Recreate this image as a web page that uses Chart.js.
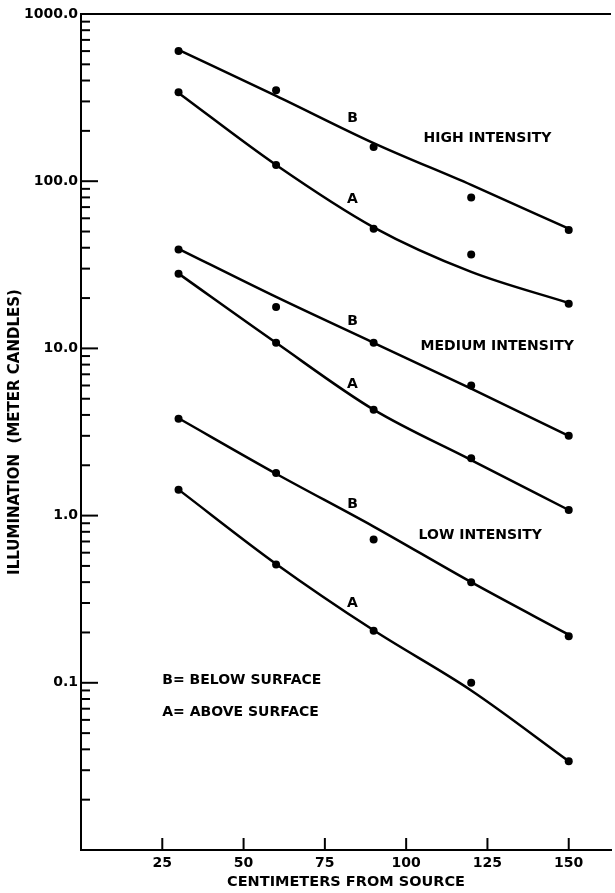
<!DOCTYPE html>
<html>
<head>
<meta charset="utf-8">
<script src="https://cdn.jsdelivr.net/npm/chart.js@4.4.1/dist/chart.umd.min.js"></script>
<style>
  body { margin: 0; background: #fff; }
</style>
</head>
<body>
<canvas id="myChart" width="615" height="893"></canvas>
<script>
const distances = [30, 60, 90, 120, 150];
const xTicks = [25, 50, 75, 100, 125, 150];
const decadeTicks = [0.1, 1, 10, 100, 1000];

// measured points (B = below surface, A = above surface)
const highB = [600, 350, 160, 80, 51];
const highA = [340, 125, 52, 36.5, 18.5];
const medB = [39, 17.7, 10.8, 6.0, 3.0];
const medA = [28, 10.8, 4.3, 2.2, 1.08];
const lowB = [3.8, 1.8, 0.72, 0.40, 0.19];
const lowA = [1.43, 0.51, 0.205, 0.10, 0.034];

// the hand drawn curves at the same distances
const highBCurve = [610, 324, 169, 95, 52];
const highACurve = [337, 125, 53, 28.7, 18.7];
const medBCurve = [39.4, 20.3, 10.8, 5.75, 3.0];
const medACurve = [28, 10.8, 4.3, 2.15, 1.08];
const lowBCurve = [3.82, 1.78, 0.86, 0.40, 0.194];
const lowACurve = [1.43, 0.514, 0.206, 0.09, 0.034];

// labels placed in data units
const curveNotes = [
  { text: 'B', x: 83.5, y: 239 },
  { text: 'A', x: 83.5, y: 78 },
  { text: 'B', x: 83.5, y: 14.6 },
  { text: 'A', x: 83.5, y: 6.13 },
  { text: 'B', x: 83.5, y: 1.17 },
  { text: 'A', x: 83.5, y: 0.297 }
];
const groupNotes = [
  { text: 'HIGH INTENSITY', x: 125, y: 181 },
  { text: 'MEDIUM INTENSITY', x: 128, y: 10.35 },
  { text: 'LOW INTENSITY', x: 122.8, y: 0.76 }
];
const keyNotes = [
  { text: 'B= BELOW SURFACE', x: 25, y: 0.104 },
  { text: 'A= ABOVE SURFACE', x: 25, y: 0.067 }
];

const FONT = "'DejaVu Sans', Arial, sans-serif";
const toXY = arr => distances.map((d, i) => ({ x: d, y: arr[i] }));

function curve(arr) {
  return {
    data: toXY(arr),
    borderColor: '#000',
    borderWidth: 2.5,
    pointRadius: 0,
    cubicInterpolationMode: 'monotone',
    fill: false
  };
}
function dots(arr) {
  return {
    data: toXY(arr),
    showLine: false,
    pointRadius: 4,
    pointBackgroundColor: '#000',
    pointBorderWidth: 0
  };
}

const frame = {
  id: 'frame',
  afterDatasetsDraw(chart) {
    const ctx = chart.ctx;
    const a = chart.chartArea;
    const x = chart.scales.x, y = chart.scales.y;
    ctx.save();
    ctx.strokeStyle = '#000';
    ctx.lineWidth = 2;
    ctx.beginPath();
    ctx.moveTo(a.left, a.top);
    ctx.lineTo(a.right, a.top);
    ctx.stroke();
    // inward ticks on the log axis
    for (let p = -2; p <= 2; p++) {
      const base = Math.pow(10, p);
      for (let m = 1; m <= 9; m++) {
        const py = y.getPixelForValue(base * m);
        const len = m === 1 ? 17 : 9;
        ctx.beginPath();
        ctx.moveTo(a.left, py);
        ctx.lineTo(a.left + len, py);
        ctx.stroke();
      }
    }
    xTicks.forEach(v => {
      const px = x.getPixelForValue(v);
      ctx.beginPath();
      ctx.moveTo(px, a.bottom);
      ctx.lineTo(px, a.bottom - 12);
      ctx.stroke();
    });
    ctx.fillStyle = '#000';
    ctx.font = 'bold 14px ' + FONT;
    ctx.textBaseline = 'middle';
    ctx.textAlign = 'center';
    curveNotes.concat(groupNotes).forEach(n => {
      ctx.fillText(n.text, x.getPixelForValue(n.x), y.getPixelForValue(n.y));
    });
    ctx.textAlign = 'left';
    keyNotes.forEach(n => {
      ctx.fillText(n.text, x.getPixelForValue(n.x), y.getPixelForValue(n.y));
    });
    ctx.restore();
  }
};

const ctx = document.getElementById('myChart').getContext('2d');
const chart = new Chart(ctx, {
  type: 'line',
  data: {
    datasets: [
      curve(highBCurve), curve(highACurve),
      curve(medBCurve), curve(medACurve),
      curve(lowBCurve), curve(lowACurve),
      dots(highB), dots(highA),
      dots(medB), dots(medA),
      dots(lowB), dots(lowA)
    ]
  },
  options: {
    responsive: false,
    devicePixelRatio: 1,
    animation: false,
    layout: { padding: { top: 14, right: 0, left: 0, bottom: 0 } },
    plugins: { legend: { display: false }, tooltip: { enabled: false } },
    scales: {
      x: {
        type: 'linear',
        min: 0,
        max: 163,
        afterBuildTicks: s => { s.ticks = xTicks.map(v => ({ value: v })); },
        afterFit: s => { s.height = 43; },
        grid: { display: false, drawTicks: false },
        border: { color: '#000', width: 2 },
        ticks: { color: '#000', padding: 5, maxRotation: 0, font: { family: FONT, size: 14, weight: 'bold' } },
        title: {
          display: true,
          text: 'CENTIMETERS FROM SOURCE',
          color: '#000',
          padding: { top: 0, bottom: 2 },
          font: { family: FONT, size: 14.5, weight: 'bold' }
        }
      },
      y: {
        type: 'logarithmic',
        min: 0.01,
        max: 1000,
        afterBuildTicks: s => { s.ticks = decadeTicks.map(v => ({ value: v })); },
        afterFit: s => { s.width = 81; },
        grid: { display: false, drawTicks: false },
        border: { color: '#000', width: 2 },
        ticks: {
          color: '#000',
          padding: 3,
          font: { family: FONT, size: 14, weight: 'bold' },
          callback: v => Number(v).toFixed(1)
        },
        title: {
          display: true,
          text: 'ILLUMINATION  (METER CANDLES)',
          color: '#000',
          padding: { top: 6, bottom: 0 },
          font: { family: FONT, size: 15, weight: 'bold' }
        }
      }
    }
  },
  plugins: [frame]
});
</script>
</body>
</html>
